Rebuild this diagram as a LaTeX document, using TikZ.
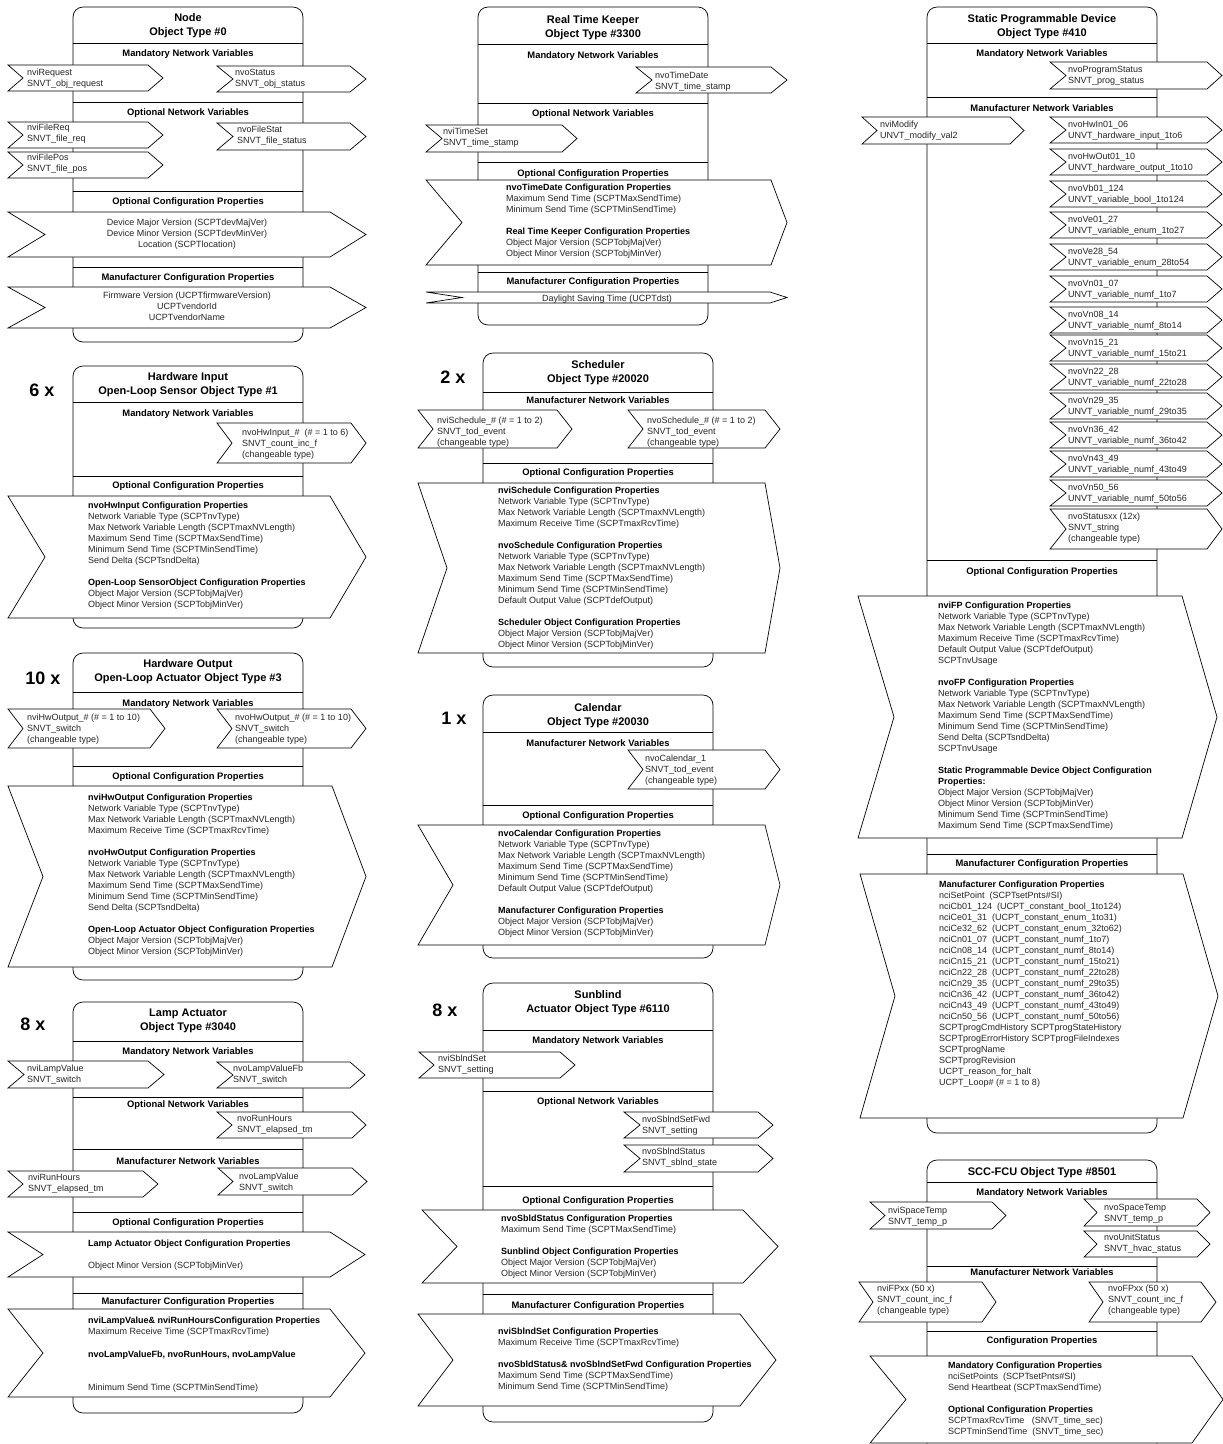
\documentclass[tikz,border=0pt]{standalone}
\usepackage{fontspec}
\setmainfont{Liberation Sans}

\tikzset{
  objbox/.style={draw, line width=0.7pt, rounded corners=10pt},
  sepline/.style={line width=0.7pt},
  chev/.style={draw, fill=white, line width=0.7pt},
  objtitle/.style={anchor=north, align=center, inner sep=0pt, font=\fontsize{11}{14.5}\selectfont\bfseries},
  secthead/.style={anchor=base, inner sep=0pt, font=\fontsize{9.4}{11}\selectfont\bfseries},
  nvtext/.style={anchor=north west, align=left, inner sep=0pt, text=black!85, font=\fontsize{9}{11}\selectfont},
  multx/.style={anchor=base, inner sep=0pt, font=\fontsize{18}{20}\selectfont\bfseries}
}
% chevron: x1, y1, x2, y2, notch depth, tip depth
\newcommand{\nvchev}[6]{%
  \draw[chev] (#1,#2) -- ({#3-#6},#2) -- (#3,{(#2+#4)/2}) -- ({#3-#6},#4)
    -- (#1,#4) -- ({#1+#5},{(#2+#4)/2}) -- cycle;}
\newcommand{\objframe}[1]{\draw[objbox] (0,0) rectangle (230,#1);}
\newcommand{\secline}[1]{\draw[sepline] (0,#1) -- (230,#1);}
\newcommand{\hd}[1]{\textcolor{black}{\bfseries #1}}

\begin{document}
\begin{tikzpicture}[x=1pt, y=-1pt]
\useasboundingbox (0,0) rectangle (1223,1444);
\fill[white] (0,0) rectangle (1223,1444);

% Node
\begin{scope}[shift={(73,7)}]
\objframe{335}
\node[objtitle] (nodeTitle) at (115,4) {\strut Node\\Object Type \#0};
\secline{36}
\node[secthead] (nodeMandNV) at (115,49) {Mandatory Network Variables};
\nvchev{-65}{58}{90}{84}{15}{15}
\node[nvtext] (nviRequest) at (-46,61) {\strut nviRequest\\SNVT\_obj\_request};
\nvchev{144}{59}{293}{85}{16}{16}
\node[nvtext] (nvoStatus) at (162,61) {\strut nvoStatus\\SNVT\_obj\_status};
\secline{95}
\node[secthead] (nodeOptNV) at (115,108) {Optional Network Variables};
\nvchev{-65}{115}{90}{141}{15}{15}
\node[nvtext] (nviFileReq) at (-46,116) {\strut nviFileReq\\SNVT\_file\_req};
\nvchev{144}{116}{293}{143}{16}{16}
\node[nvtext] (nvoFileStat) at (164,118) {\strut nvoFileStat\\SNVT\_file\_status};
\nvchev{-65}{145}{90}{171}{15}{15}
\node[nvtext] (nviFilePos) at (-46,146) {\strut nviFilePos\\SNVT\_file\_pos};
\secline{184}
\node[secthead] (nodeOptCP) at (115,197) {Optional Configuration Properties};
\nvchev{-65}{205}{293}{250}{37}{36}
\node[nvtext, anchor=north, align=center] (nodeOptCPList) at (114,211) {\strut Device Major Version (SCPTdevMajVer)\\Device Minor Version (SCPTdevMinVer)\\Location (SCPTlocation)};
\secline{260}
\node[secthead] (nodeMfrCP) at (115,273) {Manufacturer Configuration Properties};
\nvchev{-65}{280}{293}{321}{37}{36}
\node[nvtext, anchor=north, align=center] (nodeMfrCPList) at (114,284) {\strut Firmware Version (UCPTfirmwareVersion)\\UCPTvendorId\\UCPTvendorName};
\end{scope}

% Hardware Input
\begin{scope}[shift={(73,366)}]
\objframe{262}
\node[multx] (hwInMult) at (-31,30) {6 x};
\node[objtitle] (hwInTitle) at (115,4) {\strut Hardware Input\\Open-Loop Sensor Object Type \#1};
\secline{36}
\node[secthead] (hwInMandNV) at (115,50) {Mandatory Network Variables};
\nvchev{144}{57}{293}{97}{15}{15}
\node[nvtext] (nvoHwInput) at (169,62) {\strut nvoHwInput\_\#\ \ (\# = 1 to 6)\\SNVT\_count\_inc\_f\\(changeable type)};
\secline{110}
\node[secthead] (hwInOptCP) at (115,122) {Optional Configuration Properties};
\nvchev{-65}{130}{293}{252}{37}{36}
\node[nvtext] (hwInOptCPList) at (15,135) {\strut\hd{nvoHwInput Configuration Properties}\\Network Variable Type (SCPTnvType)\\Max Network Variable Length (SCPTmaxNVLength)\\Maximum Send Time (SCPTMaxSendTime)\\Minimum Send Time (SCPTMinSendTime)\\Send Delta (SCPTsndDelta)\\[11pt]\hd{Open-Loop SensorObject Configuration Properties}\\Object Major Version (SCPTobjMajVer)\\Object Minor Version (SCPTobjMinVer)};
\end{scope}

% Hardware Output
\begin{scope}[shift={(73,653)}]
\objframe{327}
\node[multx] (hwOutMult) at (-30,31) {10 x};
\node[objtitle] (hwOutTitle) at (115,4) {\strut Hardware Output\\Open-Loop Actuator Object Type \#3};
\secline{39}
\node[secthead] (hwOutMandNV) at (115,53) {Mandatory Network Variables};
\nvchev{-65}{56}{92}{95}{15}{15}
\node[nvtext] (nviHwOutput) at (-46,60) {\strut nviHwOutput\_\# (\# = 1 to 10)\\SNVT\_switch\\(changeable type)};
\nvchev{144}{56}{293}{95}{15}{15}
\node[nvtext] (nvoHwOutput) at (162,60) {\strut nvoHwOutput\_\# (\# = 1 to 10)\\SNVT\_switch\\(changeable type)};
\secline{113}
\node[secthead] (hwOutOptCP) at (115,126) {Optional Configuration Properties};
\nvchev{-65}{133}{293}{314}{35}{34}
\node[nvtext] (hwOutOptCPList) at (15,140) {\strut\hd{nviHwOutput Configuration Properties}\\Network Variable Type (SCPTnvType)\\Max Network Variable Length (SCPTmaxNVLength)\\Maximum Receive Time (SCPTmaxRcvTime)\\[11pt]\hd{nvoHwOutput Configuration Properties}\\Network Variable Type (SCPTnvType)\\Max Network Variable Length (SCPTmaxNVLength)\\Maximum Send Time (SCPTMaxSendTime)\\Minimum Send Time (SCPTMinSendTime)\\Send Delta (SCPTsndDelta)\\[11pt]\hd{Open-Loop Actuator Object Configuration Properties}\\Object Major Version (SCPTobjMajVer)\\Object Minor Version (SCPTobjMinVer)};
\end{scope}

% Lamp Actuator
\begin{scope}[shift={(73,1002)}]
\objframe{411}
\node[multx] (lampMult) at (-40,28) {8 x};
\node[objtitle] (lampTitle) at (115,4) {\strut Lamp Actuator\\Object Type \#3040};
\secline{39}
\node[secthead] (lampMandNV) at (115,52) {Mandatory Network Variables};
\nvchev{-65}{59}{91}{86}{16}{16}
\node[nvtext] (nviLampValue) at (-46,62) {\strut nviLampValue\\SNVT\_switch};
\nvchev{144}{60}{292}{86}{16}{15}
\node[nvtext] (nvoLampValueFb) at (160,62) {\strut nvoLampValueFb\\SNVT\_switch};
\secline{95}
\node[secthead] (lampOptNV) at (115,105) {Optional Network Variables};
\nvchev{144}{110}{293}{136}{15}{14}
\node[nvtext] (nvoRunHours) at (164,112) {\strut nvoRunHours\\SNVT\_elapsed\_tm};
\secline{147}
\node[secthead] (lampMfrNV) at (115,162) {Manufacturer Network Variables};
\nvchev{-65}{169}{85}{195}{15}{15}
\node[nvtext] (nviRunHours) at (-45,171) {\strut nviRunHours\\SNVT\_elapsed\_tm};
\nvchev{145}{166}{294}{193}{15}{15}
\node[nvtext] (nvoLampValue) at (166,170) {\strut nvoLampValue\\SNVT\_switch};
\secline{210}
\node[secthead] (lampOptCP) at (115,223) {Optional Configuration Properties};
\nvchev{-65}{230}{292}{275}{35}{35}
\node[nvtext] (lampOptCPList) at (15,237) {\strut\hd{Lamp Actuator Object Configuration Properties}\\[11pt]Object Minor Version (SCPTobjMinVer)};
\secline{291}
\node[secthead] (lampMfrCP) at (115,302) {Manufacturer Configuration Properties};
\nvchev{-65}{307}{292}{395}{35}{35}
\node[nvtext] (lampMfrCPList) at (15,314) {\strut\hd{nviLampValue\& nviRunHoursConfiguration Properties}\\Maximum Receive Time (SCPTmaxRcvTime)\\[12pt]\hd{nvoLampValueFb, nvoRunHours, nvoLampValue}\\[22pt]Minimum Send Time (SCPTMinSendTime)};
\end{scope}

% Real Time Keeper
\begin{scope}[shift={(478,7)}]
\objframe{318}
\node[objtitle] (rtkTitle) at (115,6) {\strut Real Time Keeper\\Object Type \#3300};
\secline{37}
\node[secthead] (rtkMandNV) at (115,51) {Mandatory Network Variables};
\nvchev{158}{60}{309}{86}{16}{16}
\node[nvtext] (nvoTimeDate) at (177,64) {\strut nvoTimeDate\\SNVT\_time\_stamp};
\secline{96}
\node[secthead] (rtkOptNV) at (115,109) {Optional Network Variables};
\nvchev{-52}{118}{99}{145}{16}{15}
\node[nvtext] (nviTimeSet) at (-35,120) {\strut nviTimeSet\\SNVT\_time\_stamp};
\secline{155}
\node[secthead] (rtkOptCP) at (115,169) {Optional Configuration Properties};
\nvchev{-52}{173}{309}{258}{36}{16}
\node[nvtext] (rtkOptCPList) at (28,176) {\strut\hd{nvoTimeDate Configuration Properties}\\Maximum Send Time (SCPTMaxSendTime)\\Minimum Send Time (SCPTMinSendTime)\\[11pt]\hd{Real Time Keeper Configuration Properties}\\Object Major Version (SCPTobjMajVer)\\Object Minor Version (SCPTobjMinVer)};
\secline{265}
\node[secthead] (rtkMfrCP) at (115,277) {Manufacturer Configuration Properties};
\nvchev{-52}{285}{309}{296}{36}{17}
\node[nvtext, anchor=base] (rtkMfrCPList) at (129,294) {Daylight Saving Time (UCPTdst)};
\end{scope}

% Scheduler
\begin{scope}[shift={(483,353)}]
\objframe{314}
\node[multx] (schedMult) at (-30,30) {2 x};
\node[objtitle] (schedTitle) at (115,5) {\strut Scheduler\\Object Type \#20020};
\secline{39}
\node[secthead] (schedMfrNV) at (115,50) {Manufacturer Network Variables};
\nvchev{-65}{57}{89}{95}{15}{15}
\node[nvtext] (nviSchedule) at (-46,63) {\strut nviSchedule\_\# (\# = 1 to 2)\\SNVT\_tod\_event\\(changeable type)};
\nvchev{145}{57}{297}{95}{15}{15}
\node[nvtext] (nvoSchedule) at (164,63) {\strut nvoSchedule\_\# (\# = 1 to 2)\\SNVT\_tod\_event\\(changeable type)};
\secline{110}
\node[secthead] (schedOptCP) at (115,122) {Optional Configuration Properties};
\nvchev{-65}{130}{297}{300}{29}{15}
\node[nvtext] (schedOptCPList) at (15,133) {\strut\hd{nviSchedule Configuration Properties}\\Network Variable Type (SCPTnvType)\\Max Network Variable Length (SCPTmaxNVLength)\\Maximum Receive Time (SCPTmaxRcvTime)\\[11pt]\hd{nvoSchedule Configuration Properties}\\Network Variable Type (SCPTnvType)\\Max Network Variable Length (SCPTmaxNVLength)\\Maximum Send Time (SCPTMaxSendTime)\\Minimum Send Time (SCPTMinSendTime)\\Default Output Value (SCPTdefOutput)\\[11pt]\hd{Scheduler Object Configuration Properties}\\Object Major Version (SCPTobjMajVer)\\Object Minor Version (SCPTobjMinVer)};
\end{scope}

% Calendar
\begin{scope}[shift={(483,695)}]
\objframe{263}
\node[multx] (calMult) at (-29,29) {1 x};
\node[objtitle] (calTitle) at (115,6) {\strut Calendar\\Object Type \#20030};
\secline{37}
\node[secthead] (calMfrNV) at (115,51) {Manufacturer Network Variables};
\nvchev{145}{55}{297}{94}{15}{15}
\node[nvtext] (nvoCalendar) at (162,59) {\strut nvoCalendar\_1\\SNVT\_tod\_event\\(changeable type)};
\secline{110}
\node[secthead] (calOptCP) at (115,123) {Optional Configuration Properties};
\nvchev{-65}{130}{297}{250}{35}{15}
\node[nvtext] (calOptCPList) at (15,134) {\strut\hd{nvoCalendar Configuration Properties}\\Network Variable Type (SCPTnvType)\\Max Network Variable Length (SCPTmaxNVLength)\\Maximum Send Time (SCPTMaxSendTime)\\Minimum Send Time (SCPTMinSendTime)\\Default Output Value (SCPTdefOutput)\\[11pt]\hd{Manufacturer Configuration Properties}\\Object Major Version (SCPTobjMajVer)\\Object Minor Version (SCPTobjMinVer)};
\end{scope}

% Sunblind
\begin{scope}[shift={(483,983)}]
\objframe{439}
\node[multx] (sblMult) at (-38,33) {8 x};
\node[objtitle] (sblTitle) at (115,5) {\strut Sunblind\\Actuator Object Type \#6110};
\secline{47}
\node[secthead] (sblMandNV) at (115,60) {Mandatory Network Variables};
\nvchev{-64}{69}{92}{95}{15}{15}
\node[nvtext] (nviSblndSet) at (-45,71) {\strut nviSblndSet\\SNVT\_setting};
\secline{108}
\node[secthead] (sblOptNV) at (115,121) {Optional Network Variables};
\nvchev{141}{129}{290}{155}{16}{15}
\node[nvtext] (nvoSblndSetFwd) at (159,132) {\strut nvoSblndSetFwd\\SNVT\_setting};
\nvchev{141}{162}{290}{189}{16}{15}
\node[nvtext] (nvoSblndStatus) at (159,164) {\strut nvoSblndStatus\\SNVT\_sblnd\_state};
\secline{203}
\node[secthead] (sblOptCP) at (115,220) {Optional Configuration Properties};
\nvchev{-61}{227}{295}{300}{35}{35}
\node[nvtext] (sblOptCPList) at (18,231) {\strut\hd{nvoSbldStatus Configuration Properties}\\Maximum Send Time (SCPTMaxSendTime)\\[11pt]\hd{Sunblind Object Configuration Properties}\\Object Major Version (SCPTobjMajVer)\\Object Minor Version (SCPTobjMinVer)};
\secline{311}
\node[secthead] (sblMfrCP) at (115,325) {Manufacturer Configuration Properties};
\nvchev{-65}{331}{293}{423}{35}{36}
\node[nvtext] (sblMfrCPList) at (15,344) {\strut\hd{nviSblndSet Configuration Properties}\\Maximum Receive Time (SCPTmaxRcvTime)\\[11pt]\hd{nvoSbldStatus\& nvoSblndSetFwd Configuration Properties}\\Maximum Send Time (SCPTMaxSendTime)\\Minimum Send Time (SCPTMinSendTime)};
\end{scope}

% Static Programmable Device
\begin{scope}[shift={(927,7)}]
\objframe{1126}
\node[objtitle] (spdTitle) at (115,5) {\strut Static Programmable Device\\Object Type \#410};
\secline{36}
\node[secthead] (spdMandNV) at (115,49) {Mandatory Network Variables};
\nvchev{123}{55}{295}{82}{16}{15}
\node[nvtext] (nvoProgramStatus) at (141,58) {\strut nvoProgramStatus\\SNVT\_prog\_status};
\secline{90}
\node[secthead] (spdMfrNV) at (115,104) {Manufacturer Network Variables};
\nvchev{-65}{110}{97}{137}{15}{14}
\node[nvtext] (nviModify) at (-47,113) {\strut nviModify\\UNVT\_modify\_val2};
\foreach \t/\nvname/\nvtype [count=\i] in {
    110/nvoHwIn01\_06/UNVT\_hardware\_input\_1to6,
    142/nvoHwOut01\_10/UNVT\_hardware\_output\_1to10,
    174/nvoVb01\_124/UNVT\_variable\_bool\_1to124,
    205/nvoVe01\_27/UNVT\_variable\_enum\_1to27,
    237/nvoVe28\_54/UNVT\_variable\_enum\_28to54,
    269/nvoVn01\_07/UNVT\_variable\_numf\_1to7,
    300/nvoVn08\_14/UNVT\_variable\_numf\_8to14,
    328/nvoVn15\_21/UNVT\_variable\_numf\_15to21,
    357/nvoVn22\_28/UNVT\_variable\_numf\_22to28,
    386/nvoVn29\_35/UNVT\_variable\_numf\_29to35,
    415/nvoVn36\_42/UNVT\_variable\_numf\_36to42,
    444/nvoVn43\_49/UNVT\_variable\_numf\_43to49,
    473/nvoVn50\_56/UNVT\_variable\_numf\_50to56}{
  \nvchev{123}{\t}{295}{\t+26}{16}{15}
  \node[nvtext] (spdOut\i) at (141,\t+3) {\strut\nvname\\\nvtype};
}
\nvchev{123}{502}{295}{542}{16}{15}
\node[nvtext] (nvoStatusxx) at (141,505) {\strut nvoStatusxx (12x)\\SNVT\_string\\(changeable type)};
\secline{553}
\node[secthead] (spdOptCP) at (115,567) {Optional Configuration Properties};
\nvchev{-69}{589}{290}{831}{36}{35}
\node[nvtext] (spdOptCPList) at (11,594) {\strut\hd{nviFP Configuration Properties}\\Network Variable Type (SCPTnvType)\\Max Network Variable Length (SCPTmaxNVLength)\\Maximum Receive Time (SCPTmaxRcvTime)\\Default Output Value (SCPTdefOutput)\\SCPTnvUsage\\[11pt]\hd{nvoFP Configuration Properties}\\Network Variable Type (SCPTnvType)\\Max Network Variable Length (SCPTmaxNVLength)\\Maximum Send Time (SCPTMaxSendTime)\\Minimum Send Time (SCPTMinSendTime)\\Send Delta (SCPTsndDelta)\\SCPTnvUsage\\[11pt]\hd{Static Programmable Device Object Configuration}\\\hd{Properties:}\\Object Major Version (SCPTobjMajVer)\\Object Minor Version (SCPTobjMinVer)\\Minimum Send Time (SCPTminSendTime)\\Maximum Send Time (SCPTmaxSendTime)};
\secline{847}
\node[secthead] (spdMfrCP) at (115,859) {Manufacturer Configuration Properties};
\nvchev{-67}{867}{291}{1111}{35}{35}
\node[nvtext] (spdMfrCPList) at (12,873) {\strut\hd{Manufacturer Configuration Properties}\\nciSetPoint\ \ (SCPTsetPnts\#SI)\\nciCb01\_124\ \ (UCPT\_constant\_bool\_1to124)\\nciCe01\_31\ \ (UCPT\_constant\_enum\_1to31)\\nciCe32\_62\ \ (UCPT\_constant\_enum\_32to62)\\nciCn01\_07\ \ (UCPT\_constant\_numf\_1to7)\\nciCn08\_14\ \ (UCPT\_constant\_numf\_8to14)\\nciCn15\_21\ \ (UCPT\_constant\_numf\_15to21)\\nciCn22\_28\ \ (UCPT\_constant\_numf\_22to28)\\nciCn29\_35\ \ (UCPT\_constant\_numf\_29to35)\\nciCn36\_42\ \ (UCPT\_constant\_numf\_36to42)\\nciCn43\_49\ \ (UCPT\_constant\_numf\_43to49)\\nciCn50\_56\ \ (UCPT\_constant\_numf\_50to56)\\SCPTprogCmdHistory SCPTprogStateHistory\\SCPTprogErrorHistory SCPTprogFileIndexes\\SCPTprogName\\SCPTprogRevision\\UCPT\_reason\_for\_halt\\UCPT\_Loop\# (\# = 1 to 8)};
\end{scope}

% SCC-FCU
\begin{scope}[shift={(927,1160)}]
\objframe{300}
\node[objtitle] (fcuTitle) at (115,5) {\strut SCC-FCU Object Type \#8501};
\secline{22}
\node[secthead] (fcuMandNV) at (115,35) {Mandatory Network Variables};
\nvchev{-57}{42}{79}{69}{15}{14}
\node[nvtext] (nviSpaceTemp) at (-39,46) {\strut nviSpaceTemp\\SNVT\_temp\_p};
\nvchev{157}{39}{283}{66}{13}{13}
\node[nvtext] (nvoSpaceTemp) at (177,43) {\strut nvoSpaceTemp\\SNVT\_temp\_p};
\nvchev{157}{71}{283}{97}{13}{13}
\node[nvtext] (nvoUnitStatus) at (177,73) {\strut nvoUnitStatus\\SNVT\_hvac\_status};
\secline{106}
\node[secthead] (fcuMfrNV) at (115,115) {Manufacturer Network Variables};
\nvchev{-68}{122}{69}{162}{14}{14}
\node[nvtext] (nviFPxx) at (-50,124) {\strut nviFPxx (50 x)\\SNVT\_count\_inc\_f\\(changeable type)};
\nvchev{162}{122}{289}{162}{14}{15}
\node[nvtext] (nvoFPxx) at (181,124) {\strut nvoFPxx (50 x)\\SNVT\_count\_inc\_f\\(changeable type)};
\secline{171}
\node[secthead] (fcuCP) at (115,183) {Configuration Properties};
\nvchev{-57}{196}{296}{283}{36}{31}
\node[nvtext] (fcuCPList) at (21,201) {\strut\hd{Mandatory Configuration Properties}\\nciSetPoints\ \ (SCPTsetPnts\#SI)\\Send Heartbeat (SCPTmaxSendTime)\\[11pt]\hd{Optional Configuration Properties}\\SCPTmaxRcvTime\ \ \ (SNVT\_time\_sec)\\SCPTminSendTime\ \ (SNVT\_time\_sec)};
\end{scope}
\end{tikzpicture}
\end{document}
